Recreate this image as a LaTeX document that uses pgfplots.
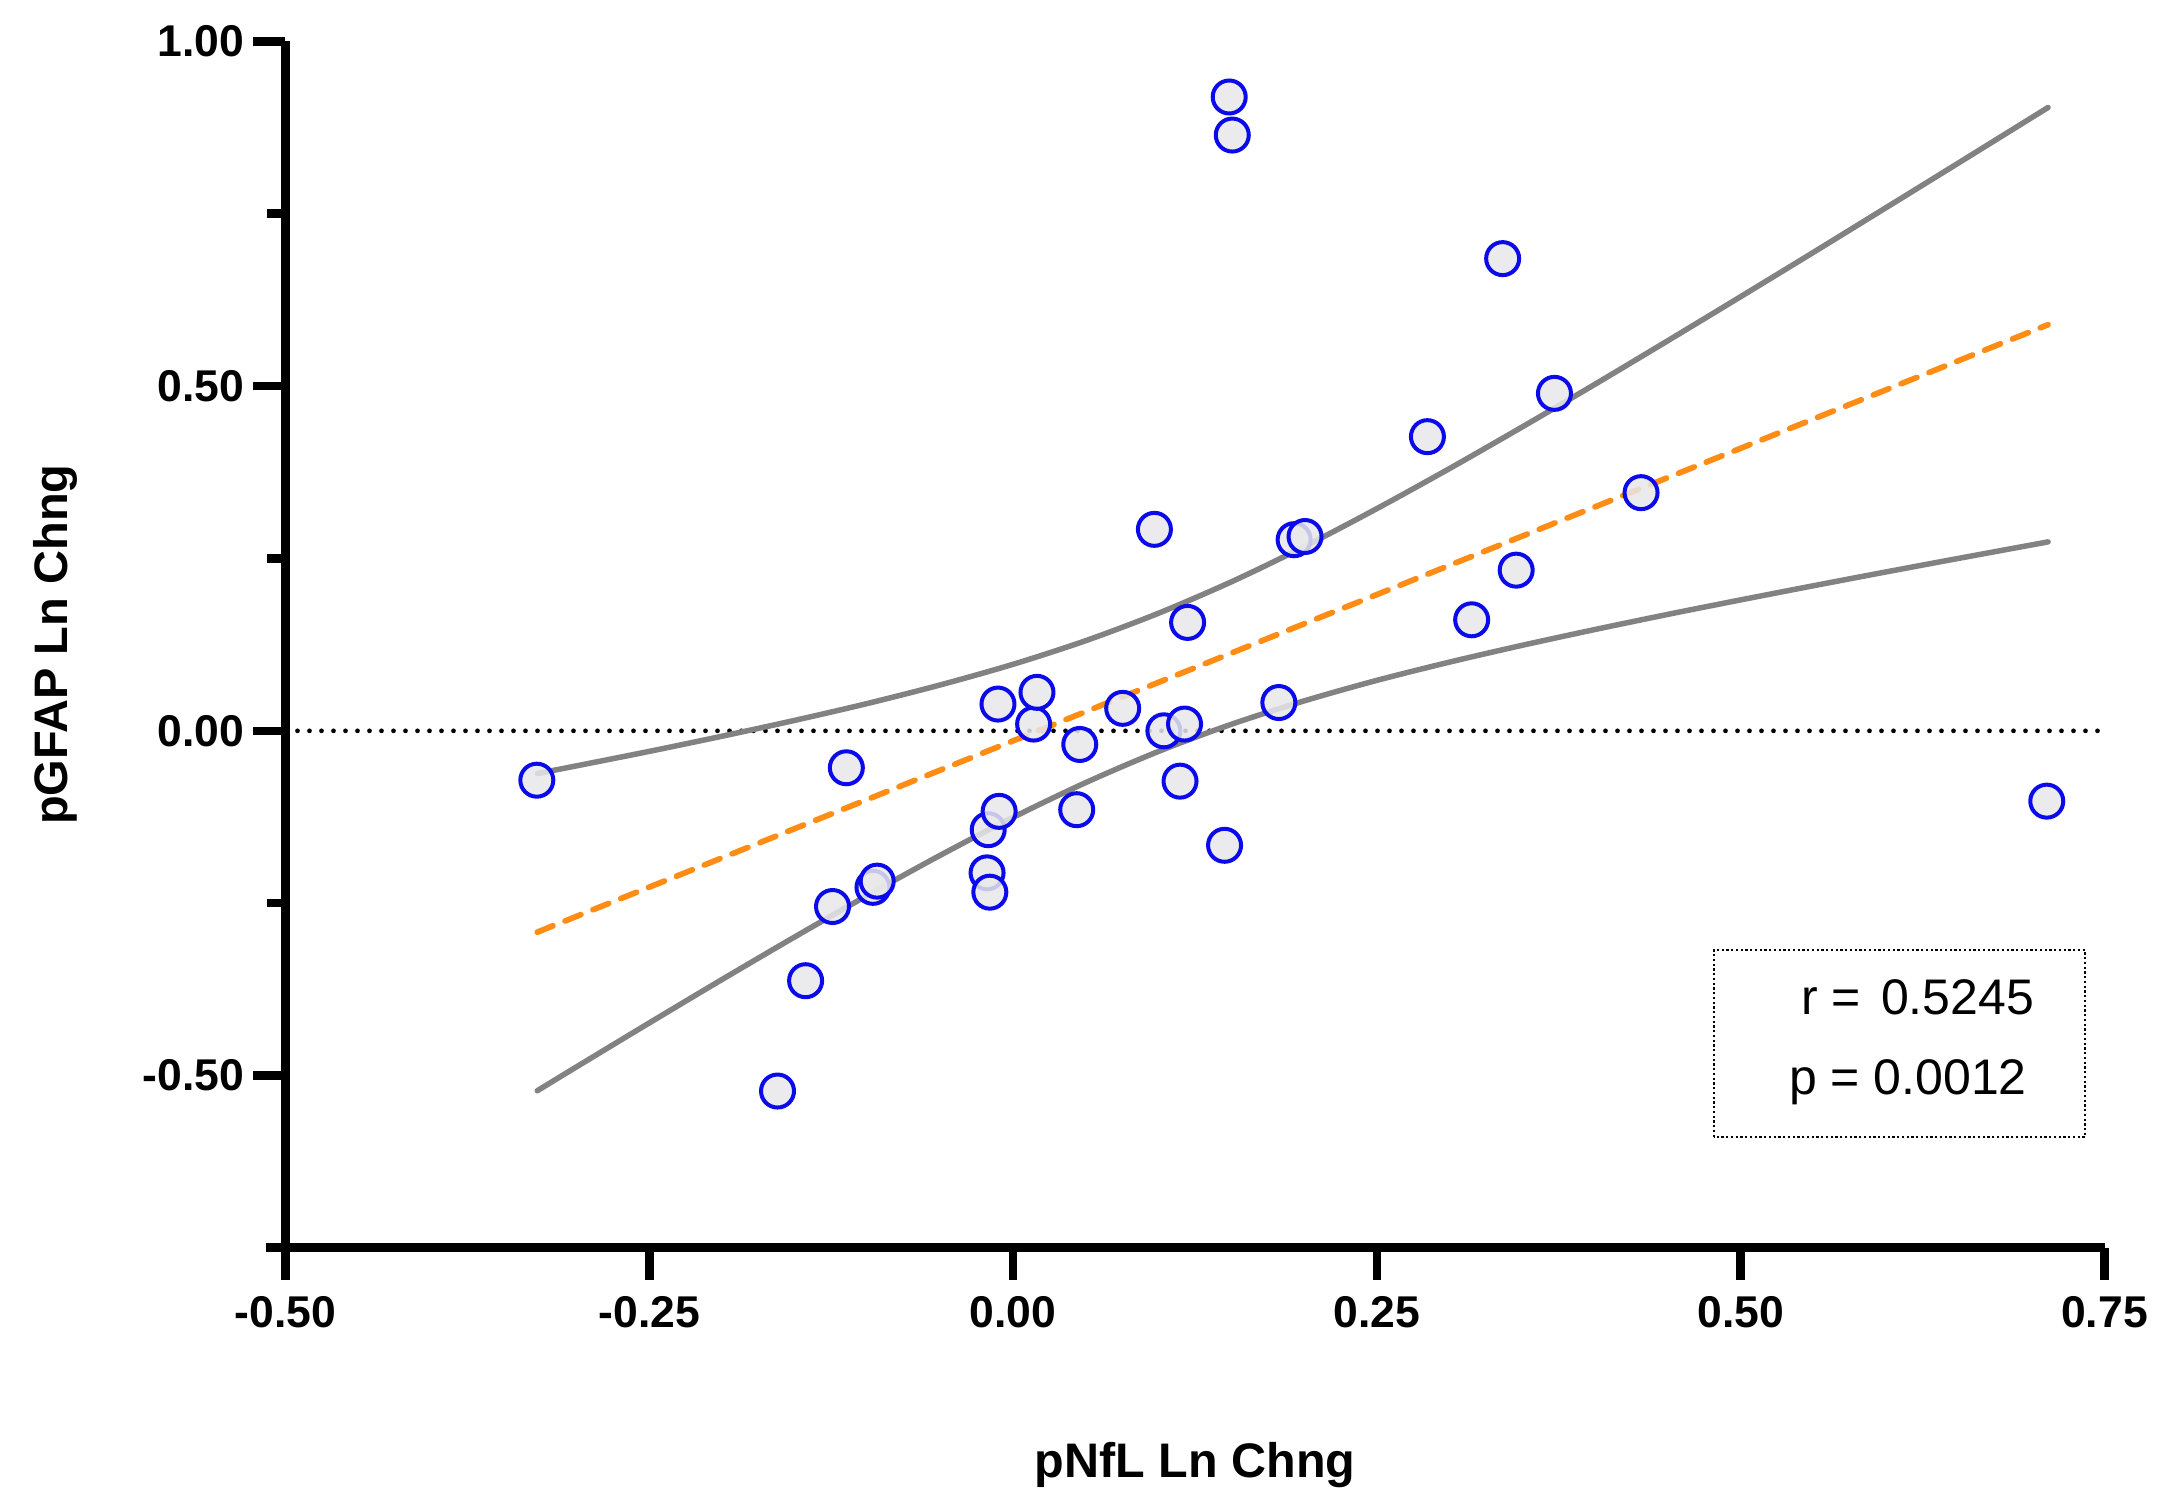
\documentclass[border=0pt]{standalone}
\usepackage{fontspec}
\setmainfont{Liberation Sans}
\usepackage{pgfplots}
\pgfplotsset{compat=1.18}
\definecolor{ptfill}{RGB}{232,232,234}
\definecolor{ptedge}{RGB}{10,10,235}
\definecolor{bandgray}{RGB}{130,130,130}
\definecolor{fitorange}{RGB}{255,140,20}

\pgfplotstableread{
x y
-0.3273 -0.0716
-0.1619 -0.5224
-0.1426 -0.3624
-0.1241 -0.2548
-0.1146 -0.0536
-0.0963 -0.2270
-0.0934 -0.2180
-0.0179 -0.2060
-0.0171 -0.1434
-0.0160 -0.2340
-0.0104 0.0388
-0.0096 -0.1168
0.0141 0.0098
0.0164 0.0558
0.0437 -0.1144
0.0458 -0.0198
0.0753 0.0326
0.0971 0.2922
0.1036 0.0000
0.1147 -0.0730
0.1178 0.0098
0.1199 0.1572
0.1453 -0.1660
0.1485 0.9192
0.1506 0.8640
0.1826 0.0410
0.1931 0.2772
0.2006 0.2818
0.2847 0.4266
0.3151 0.1610
0.3364 0.6848
0.3457 0.2330
0.3720 0.4894
0.4315 0.3454
0.7103 -0.1020
}\pts

\pgfplotstableread{
x up lo
-0.327 -0.0620 -0.5220
-0.300 -0.0508 -0.4873
-0.250 -0.0298 -0.4236
-0.200 -0.0078 -0.3606
-0.150 0.0152 -0.2988
-0.100 0.0397 -0.2385
-0.050 0.0666 -0.1804
0.000 0.0965 -0.1255
0.050 0.1308 -0.0750
0.100 0.1706 -0.0298
0.150 0.2161 0.0095
0.200 0.2670 0.0434
0.250 0.3223 0.0732
0.300 0.3805 0.0997
0.350 0.4409 0.1241
0.400 0.5028 0.1470
0.450 0.5659 0.1689
0.500 0.6297 0.1899
0.550 0.6940 0.2104
0.600 0.7589 0.2305
0.650 0.8240 0.2502
0.7112 0.9040 0.2740
}\band

\begin{document}
\begin{tikzpicture}
\path[use as bounding box] (-57.1pt,-49pt) rectangle (374.3pt,249.6pt);
\begin{axis}[
  name=ax, at={(0pt,0pt)}, anchor=south west,
  scale only axis, width=363.8pt, height=241.34pt,
  xmin=-0.5, xmax=0.75, ymin=-0.75, ymax=1.0,
  axis x line=bottom, axis y line=left,
  axis line style={-, line width=1.8pt, line cap=butt},
  x axis line style={shorten <=-3.9pt},
  tick align=outside, major tick length=6.4pt, minor tick length=3.7pt,
  tick style={black, line width=1.7pt},
  xtick={-0.5,-0.25,0,0.25,0.5,0.75},
  ytick={-0.5,0,0.5,1},
  minor ytick={-0.25,0.25,0.75},
  x tick label style={/pgf/number format/.cd, fixed, fixed zerofill, precision=2, assume math mode=true, /tikz/.cd,
    font=\fontsize{8.9}{10}\selectfont\bfseries, inner sep=0pt, anchor=base, yshift=-9.6pt},
  y tick label style={/pgf/number format/.cd, fixed, fixed zerofill, precision=2, assume math mode=true, /tikz/.cd,
    font=\fontsize{8.9}{10}\selectfont\bfseries, inner sep=0pt, anchor=east, xshift=-1.7pt},
  xlabel={pNfL Ln Chng},
  xlabel style={at={(axis description cs:0.5,-0.1906)}, anchor=base, inner sep=0pt, font=\fontsize{9.7}{11}\selectfont\bfseries},
  ylabel={pGFAP Ln Chng},
  ylabel style={at={(axis description cs:-0.1267,0.5)}, anchor=center, inner sep=0pt, font=\fontsize{9.4}{11}\selectfont\bfseries},
  clip=false,
]
\addplot[black, line width=0.95pt, dash pattern=on 0pt off 2.4pt, line cap=round] coordinates {(-0.5,0) (0.75,0)};
\addplot[bandgray, line width=1.1pt, line cap=round, smooth] table[x=x, y=up] {\band};
\addplot[bandgray, line width=1.1pt, line cap=round, smooth] table[x=x, y=lo] {\band};
\addplot[fitorange, line width=1.15pt, dash pattern=on 3.4pt off 2.6pt, line cap=round] coordinates {(-0.327,-0.2920) (0.7112,0.5890)};
\addplot[only marks, mark=*, mark size=3.3pt, mark options={fill=ptfill, draw=ptedge, line width=0.8pt, fill opacity=0.85}] table[x=x, y=y] {\pts};
\draw[black, line width=0.45pt, dash pattern=on 0.45pt off 0.5pt] (rel axis cs:0.7853,0.092) rectangle (rel axis cs:0.9893,0.247);
\node[anchor=base west, inner sep=0pt, font=\fontsize{10}{12}\selectfont] at (rel axis cs:0.8326,0.1931) {r = \kern1.3pt0.5245};
\node[anchor=base west, inner sep=0pt, font=\fontsize{10}{12}\selectfont] at (rel axis cs:0.826,0.1268) {p = 0.0012};
\end{axis}
\end{tikzpicture}
\end{document}
